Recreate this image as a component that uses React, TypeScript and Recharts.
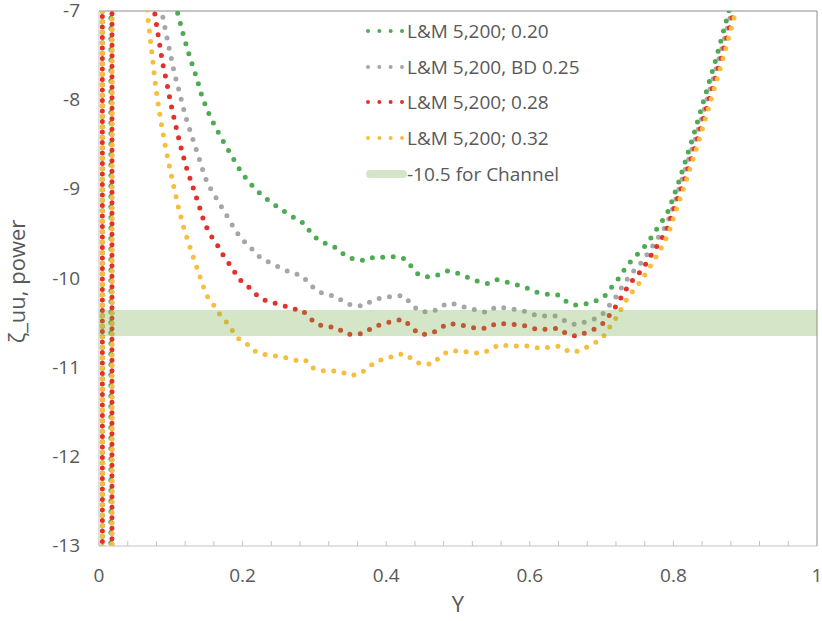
import React from 'react';
import { LineChart, Line, XAxis, YAxis, Legend, ReferenceLine } from 'recharts';

type Pt = [number, number];

// Y (wall distance) vs ζ_uu
const lm020: Pt[] = [
  [0.0046, -5], [0.0047, -15], [0.0165, -15], [0.0166, -5], [0.1, -6.74],
  [0.1106, -7.056], [0.1181, -7.288], [0.1265, -7.519], [0.1357, -7.743], [0.1441, -7.975],
  [0.1552, -8.192], [0.1688, -8.401], [0.1837, -8.611], [0.1985, -8.813], [0.2172, -8.996],
  [0.2385, -9.141], [0.2632, -9.276], [0.2869, -9.391], [0.2953, -9.492], [0.3059, -9.571],
  [0.3324, -9.665], [0.3431, -9.747], [0.3566, -9.788], [0.3706, -9.799], [0.3835, -9.758],
  [0.3979, -9.761], [0.4119, -9.755], [0.4258, -9.78], [0.4356, -9.87], [0.4453, -9.96],
  [0.4593, -9.982], [0.4724, -9.96], [0.4858, -9.915], [0.4997, -9.941], [0.5132, -9.986],
  [0.5272, -10.03], [0.5411, -10.057], [0.5547, -10.012], [0.5686, -10.041], [0.5826, -10.072],
  [0.596, -10.109], [0.6091, -10.154], [0.6234, -10.176], [0.6384, -10.181], [0.6499, -10.254],
  [0.6625, -10.299], [0.6774, -10.285], [0.6914, -10.254], [0.7043, -10.198], [0.7131, -10.105],
  [0.7225, -10.012], [0.7308, -9.911], [0.7396, -9.817], [0.7499, -9.728], [0.7597, -9.642],
  [0.7685, -9.548], [0.7768, -9.447], [0.7852, -9.346], [0.7926, -9.246], [0.7978, -9.136],
  [0.808, -8.906], [0.8261, -8.446], [0.8428, -7.99], [0.8596, -7.53], [0.8745, -7.086], [0.885, -6.75],
];

const lm025bd: Pt[] = [
  [0.0046, -5], [0.0047, -15], [0.018, -15], [0.0181, -5], [0.08, -6.71],
  [0.0874, -7.008], [0.093, -7.235], [0.099, -7.467], [0.105, -7.698], [0.1126, -7.93],
  [0.1199, -8.166], [0.1287, -8.39], [0.1381, -8.618], [0.1469, -8.846], [0.1524, -8.954],
  [0.16, -9.055], [0.1674, -9.156], [0.1753, -9.257], [0.1823, -9.358], [0.1901, -9.458],
  [0.1985, -9.559], [0.2096, -9.635], [0.2185, -9.728], [0.2301, -9.788], [0.2427, -9.844],
  [0.2556, -9.889], [0.2688, -9.941], [0.2822, -9.963], [0.2919, -10.049], [0.3026, -10.136],
  [0.3156, -10.18], [0.3301, -10.198], [0.3417, -10.27], [0.3552, -10.307], [0.3692, -10.307],
  [0.3812, -10.24], [0.3951, -10.217], [0.4096, -10.198], [0.424, -10.192], [0.4342, -10.277],
  [0.4449, -10.363], [0.4584, -10.378], [0.4718, -10.349], [0.4835, -10.281], [0.4975, -10.288],
  [0.5119, -10.33], [0.5258, -10.352], [0.5402, -10.382], [0.5527, -10.318], [0.5672, -10.33],
  [0.5812, -10.349], [0.5951, -10.371], [0.6091, -10.416], [0.623, -10.423], [0.6374, -10.419],
  [0.6499, -10.479], [0.6635, -10.517], [0.6774, -10.487], [0.6914, -10.45], [0.7034, -10.386],
  [0.712, -10.288], [0.7211, -10.195], [0.7287, -10.091], [0.7371, -9.993], [0.7464, -9.9],
  [0.7563, -9.814], [0.7647, -9.716], [0.7731, -9.612], [0.781, -9.515], [0.7894, -9.41],
  [0.7954, -9.302], [0.8001, -9.194], [0.8113, -8.906], [0.8303, -8.446], [0.847, -7.99],
  [0.8638, -7.53], [0.8787, -7.086], [0.889, -6.75],
];

const lm028: Pt[] = [
  [0.0046, -5.06], [0.0047, -15], [0.018, -15], [0.0181, -5], [0.07, -6.64],
  [0.0791, -7.101], [0.0837, -7.336], [0.0883, -7.572], [0.0944, -7.804], [0.1, -8.039],
  [0.1064, -8.27], [0.1134, -8.506], [0.1209, -8.734], [0.1301, -8.959], [0.1395, -9.186],
  [0.1437, -9.302], [0.1488, -9.41], [0.1558, -9.519], [0.1642, -9.615], [0.1711, -9.716],
  [0.1795, -9.814], [0.1879, -9.915], [0.1957, -10.012], [0.2068, -10.083], [0.2172, -10.169],
  [0.2283, -10.237], [0.2413, -10.27], [0.2556, -10.299], [0.2688, -10.341], [0.2822, -10.349],
  [0.2925, -10.434], [0.3031, -10.512], [0.317, -10.539], [0.3315, -10.55], [0.3431, -10.621],
  [0.357, -10.629], [0.371, -10.61], [0.3822, -10.539], [0.3965, -10.509], [0.41, -10.475],
  [0.424, -10.456], [0.4347, -10.543], [0.4459, -10.624], [0.4598, -10.624], [0.4724, -10.58],
  [0.484, -10.509], [0.4983, -10.509], [0.5128, -10.539], [0.5268, -10.562], [0.5411, -10.557],
  [0.5537, -10.501], [0.5681, -10.509], [0.582, -10.52], [0.5965, -10.535], [0.6105, -10.573],
  [0.6248, -10.568], [0.6397, -10.557], [0.6517, -10.624], [0.6657, -10.647], [0.6796, -10.602],
  [0.6932, -10.557], [0.7046, -10.487], [0.7127, -10.389], [0.7215, -10.293], [0.729, -10.187],
  [0.7368, -10.089], [0.7457, -9.993], [0.7559, -9.907], [0.7639, -9.806], [0.7717, -9.705],
  [0.7796, -9.604], [0.7876, -9.5], [0.7936, -9.396], [0.7978, -9.284], [0.8029, -9.167],
  [0.8149, -8.906], [0.8331, -8.446], [0.8498, -7.99], [0.8665, -7.53], [0.8815, -7.086], [0.892, -6.75],
];

const lm032: Pt[] = [
  [0.0046, -5], [0.0047, -15], [0.018, -15], [0.0181, -5], [0.06, -6.46],
  [0.0683, -7.082], [0.0715, -7.322], [0.0749, -7.557], [0.0781, -7.796], [0.0823, -8.035],
  [0.0869, -8.27], [0.0921, -8.506], [0.098, -8.738], [0.1042, -8.97], [0.1106, -9.201],
  [0.1181, -9.433], [0.1273, -9.665], [0.1367, -9.889], [0.1464, -10.117], [0.1524, -10.225],
  [0.1614, -10.315], [0.1692, -10.416], [0.1789, -10.501], [0.1873, -10.602], [0.1962, -10.692],
  [0.2088, -10.748], [0.2194, -10.831], [0.2319, -10.853], [0.2455, -10.868], [0.2598, -10.887],
  [0.2738, -10.916], [0.2869, -10.909], [0.2967, -10.999], [0.3096, -11.036], [0.3245, -11.033],
  [0.3385, -11.051], [0.3505, -11.089], [0.3644, -11.066], [0.3756, -10.991], [0.3877, -10.924],
  [0.4017, -10.898], [0.4146, -10.851], [0.4282, -10.849], [0.4389, -10.932], [0.4515, -10.961],
  [0.4654, -10.957], [0.4756, -10.868], [0.4877, -10.812], [0.5021, -10.812], [0.5165, -10.826],
  [0.5304, -10.842], [0.5444, -10.804], [0.5565, -10.744], [0.5714, -10.756], [0.5854, -10.756],
  [0.6001, -10.759], [0.6146, -10.786], [0.629, -10.767], [0.6429, -10.759], [0.6551, -10.826],
  [0.6695, -10.812], [0.6824, -10.756], [0.6955, -10.7], [0.7061, -10.621], [0.7131, -10.52],
  [0.722, -10.422], [0.729, -10.315], [0.7368, -10.214], [0.7457, -10.117], [0.755, -10.027],
  [0.7629, -9.923], [0.7709, -9.822], [0.7786, -9.721], [0.7862, -9.615], [0.7922, -9.508],
  [0.7973, -9.399], [0.8015, -9.284], [0.8065, -9.171], [0.8177, -8.906], [0.8358, -8.446],
  [0.8526, -7.99], [0.8693, -7.53], [0.8842, -7.086], [0.895, -6.75],
];

const channel: Pt[] = [[0, -10.5], [1, -10.5]];

const xTicks = [
  0, 0.04, 0.08, 0.12, 0.16, 0.2, 0.24, 0.28, 0.32, 0.36, 0.4, 0.44, 0.48,
  0.52, 0.56, 0.6, 0.64, 0.68, 0.72, 0.76, 0.8, 0.84, 0.88, 0.92, 0.96, 1,
];
const xLabels: Record<string, string> = { '0': '0', '0.2': '0.2', '0.4': '0.4', '0.6': '0.6', '0.8': '0.8', '1': '1' };
const yTicks = [-13, -12, -11, -10, -9, -8, -7];

const FONT = '"Open Sans", sans-serif';
const TEXT = '#595959';

const series = [
  { key: 'g', name: 'L&M 5,200; 0.20', data: lm020, color: '#4dab52' },
  { key: 'k', name: 'L&M 5,200, BD 0.25', data: lm025bd, color: '#a6a6a6' },
  { key: 'r', name: 'L&M 5,200; 0.28', data: lm028, color: '#e5302a' },
  { key: 'y', name: 'L&M 5,200; 0.32', data: lm032, color: '#f6be3c' },
];
const BAND = '#70AD47';

const toRows = (d: Pt[]) => d.map(([x, y]) => ({ x, y }));

const XTick = (props: any) => {
  const { x, y, payload } = props;
  const lab = xLabels[String(payload.value)];
  return (
    <g>
      <line x1={x} x2={x} y1={y} y2={y - 5} stroke="#c4c4c4" />
      {lab !== undefined && (
        <text x={x} y={y + 31} textAnchor="middle" dominantBaseline="middle"
          fill={TEXT} fontSize={19} fontFamily={FONT}>{lab}</text>
      )}
    </g>
  );
};

const YTick = (props: any) => {
  const { x, y, payload } = props;
  return (
    <text x={x - 19} y={y + 1} textAnchor="end" dominantBaseline="middle"
      fill={TEXT} fontSize={19} fontFamily={FONT}>{payload.value}</text>
  );
};

const LegendBox = () => (
  <div style={{ fontFamily: FONT, fontSize: 19, color: TEXT }}>
    {series.map(s => (
      <div key={s.key} style={{ height: 35.7, display: 'flex', alignItems: 'center' }}>
        <svg width={41} height={10} style={{ display: 'block' }}>
          <line x1={2} x2={36} y1={5} y2={5} stroke={s.color} strokeWidth={4}
            strokeDasharray="0 11.33" strokeLinecap="round" />
        </svg>
        <span style={{ whiteSpace: 'nowrap' }}>{s.name}</span>
      </div>
    ))}
    <div style={{ height: 35.7, display: 'flex', alignItems: 'center' }}>
      <svg width={41} height={10} style={{ display: 'block' }}>
        <line x1={4} x2={37} y1={5} y2={5} stroke={BAND} strokeOpacity={0.3} strokeWidth={8} strokeLinecap="round" />
      </svg>
      <span style={{ whiteSpace: 'nowrap' }}>-10.5 for Channel</span>
    </div>
  </div>
);

export default function App() {
  return (
    <div style={{ width: 822, height: 621, background: '#fff' }}>
      <style>{'body{margin:0;}'}</style>
      <LineChart width={822} height={621} margin={{ top: 11, right: 5, bottom: 0, left: 0 }}
        style={{ fontFamily: FONT }}>
        <XAxis type="number" dataKey="x" domain={[0, 1]} ticks={xTicks} interval={0}
          allowDataOverflow tick={<XTick />} tickLine={false} tickSize={0} tickMargin={0}
          height={75} axisLine={{ stroke: '#c4c4c4' }}
          label={(p: any) => {
            const vb = p.viewBox;
            return (
              <text x={vb.x + vb.width / 2} y={vb.y + 60} textAnchor="middle" dominantBaseline="middle"
                fill={TEXT} fontSize={22} fontFamily={FONT}>Y</text>
            );
          }} />
        <YAxis type="number" dataKey="y" domain={[-13, -7]} ticks={yTicks} interval={0}
          allowDataOverflow tick={<YTick />} tickLine={false} tickSize={0} tickMargin={0}
          width={99} axisLine={{ stroke: '#c4c4c4' }}
          label={(p: any) => {
            const vb = p.viewBox;
            const cx = vb.x + 19;
            const cy = vb.y + vb.height / 2 + 3;
            return (
              <text x={cx} y={cy} transform={`rotate(-90, ${cx}, ${cy})`} textAnchor="middle"
                dominantBaseline="middle" fill={TEXT} fontSize={22} fontFamily={FONT}>ζ_uu, power</text>
            );
          }} />
        {/* plot-area border, top and right */}
        <ReferenceLine y={-7} stroke="#8c8c8c" strokeWidth={1} ifOverflow="visible" />
        <ReferenceLine x={1} stroke="#8c8c8c" strokeWidth={1} ifOverflow="visible" />
        {series.map(s => (
          <Line key={s.key} data={toRows(s.data)} dataKey="y" name={s.name} type="linear"
            stroke={s.color} strokeWidth={5} strokeDasharray="0 10.5" strokeLinecap="round"
            dot={false} activeDot={false} isAnimationActive={false} />
        ))}
        <Line data={toRows(channel)} dataKey="y" name="-10.5 for Channel" type="linear"
          stroke={BAND} strokeOpacity={0.3} strokeWidth={26} dot={false} activeDot={false}
          isAnimationActive={false} />
        <Legend layout="vertical" align="center" verticalAlign="middle" content={<LegendBox />}
          wrapperStyle={{ top: 13, left: 366, width: 280 }} />
      </LineChart>
    </div>
  );
}
